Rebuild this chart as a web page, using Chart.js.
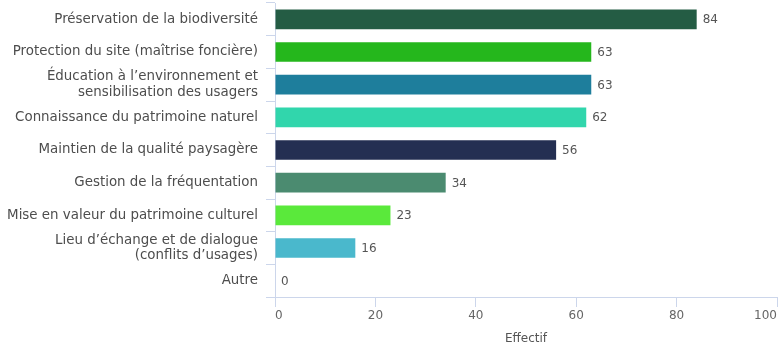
<!DOCTYPE html>
<html>
<head>
<meta charset="utf-8">
<script src="https://cdn.jsdelivr.net/npm/chart.js@4/dist/chart.umd.min.js"></script>
<style>
  html, body { margin: 0; padding: 0; background: #ffffff; }
  #wrap { width: 779px; height: 347px; position: relative; }
</style>
</head>
<body>
<div id="wrap"><canvas id="chart"></canvas></div>
<script>
// Objectifs cités, nombre de réponses par objectif
const categories = [
  ["Préservation de la biodiversité"],
  ["Protection du site (maîtrise foncière)"],
  ["Éducation à l’environnement et", "sensibilisation des usagers"],
  ["Connaissance du patrimoine naturel"],
  ["Maintien de la qualité paysagère"],
  ["Gestion de la fréquentation"],
  ["Mise en valeur du patrimoine culturel"],
  ["Lieu d’échange et de dialogue", "(conflits d’usages)"],
  ["Autre"]
];
const effectifs = [84, 63, 63, 62, 56, 34, 23, 16, 0];
const xTickValues = [0, 20, 40, 60, 80, 100];
const axisTitle = "Effectif";

const barColors = ["#245c44", "#25b71c", "#1e7e9c", "#31d6ac", "#242f52",
                   "#4b8b70", "#5ae93b", "#4ab8cc", "#9e9e9e"];

const FONT = "'DejaVu Sans', sans-serif";
const AXIS_LINE = "#ccd6eb";

// Writes each bar's value just past its end
const valueLabels = {
  id: "valueLabels",
  afterDatasetsDraw(chart) {
    const ctx = chart.ctx;
    const meta = chart.getDatasetMeta(0);
    ctx.save();
    ctx.font = "12px " + FONT;
    ctx.fillStyle = "#555555";
    ctx.textAlign = "left";
    ctx.textBaseline = "middle";
    meta.data.forEach((bar, i) => {
      ctx.fillText(String(chart.data.datasets[0].data[i]), bar.x + 6, bar.y + 1);
    });
    ctx.restore();
  }
};

new Chart(document.getElementById("chart"), {
  type: "bar",
  data: {
    labels: categories,
    datasets: [{
      data: effectifs,
      backgroundColor: barColors,
      borderWidth: 0,
      categoryPercentage: 1,
      barPercentage: 0.6
    }]
  },
  options: {
    indexAxis: "y",
    responsive: true,
    maintainAspectRatio: false,
    animation: false,
    layout: { padding: { top: 3, right: 2, bottom: 0, left: 0 } },
    plugins: {
      legend: { display: false },
      tooltip: { enabled: false }
    },
    scales: {
      y: {
        grid: {
          display: true,
          offset: true,
          drawOnChartArea: false,
          drawTicks: true,
          tickLength: 9,
          color: AXIS_LINE,
          tickColor: AXIS_LINE
        },
        border: { display: true, color: AXIS_LINE },
        ticks: {
          color: "#4d4d4d",
          padding: 8,
          autoSkip: false,
          font: { family: FONT, size: 13.4, lineHeight: 1.15 }
        },
        afterFit(scale) {
          scale.width = 275;
          scale.paddingTop = 0;
          scale.paddingBottom = 0;
        }
      },
      x: {
        min: 0,
        max: 100,
        afterBuildTicks(scale) {
          scale.ticks = xTickValues.map(v => ({ value: v }));
        },
        grid: {
          display: true,
          drawOnChartArea: false,
          drawTicks: true,
          tickLength: 10,
          color: AXIS_LINE,
          tickColor: AXIS_LINE
        },
        border: { display: true, color: AXIS_LINE },
        ticks: {
          color: "#666666",
          padding: 2,
          align: "inner",
          autoSkip: false,
          maxRotation: 0,
          font: { family: FONT, size: 12 }
        },
        title: {
          display: true,
          text: axisTitle,
          color: "#555555",
          padding: { top: 2, bottom: 1 },
          font: { family: FONT, size: 12 }
        },
        afterFit(scale) {
          scale.height = 50;
          scale.paddingLeft = 0;
          scale.paddingRight = 0;
        }
      }
    }
  },
  plugins: [valueLabels]
});
</script>
</body>
</html>
